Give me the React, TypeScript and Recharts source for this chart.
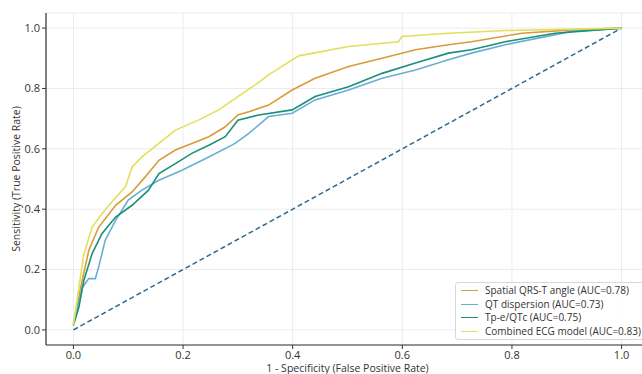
import { CartesianGrid, Line, LineChart, XAxis, YAxis } from "recharts";

type Pt = { x: number; y: number };

const ticks = [0, 0.2, 0.4, 0.6, 0.8, 1.0];

const spatialFpr = [0, 0.016, 0.028, 0.046, 0.077, 0.107, 0.131, 0.156, 0.186, 0.216, 0.247, 0.277, 0.3, 0.32, 0.356, 0.399, 0.441, 0.502, 0.563, 0.624, 0.684, 0.726, 0.818, 0.909, 1];
const spatialTpr = [0.02, 0.164, 0.263, 0.34, 0.413, 0.457, 0.507, 0.562, 0.596, 0.618, 0.64, 0.673, 0.712, 0.723, 0.745, 0.795, 0.834, 0.873, 0.9, 0.928, 0.945, 0.955, 0.983, 0.994, 1];

const qtdFpr = [0, 0.016, 0.028, 0.04, 0.046, 0.058, 0.077, 0.1, 0.125, 0.156, 0.198, 0.247, 0.295, 0.32, 0.356, 0.399, 0.441, 0.502, 0.563, 0.624, 0.684, 0.726, 0.788, 0.909, 1];
const qtdTpr = [0.015, 0.14, 0.17, 0.17, 0.208, 0.297, 0.363, 0.43, 0.463, 0.496, 0.529, 0.573, 0.618, 0.651, 0.707, 0.718, 0.762, 0.795, 0.834, 0.861, 0.895, 0.917, 0.945, 0.989, 1];

const tpeFpr = [0, 0.01, 0.019, 0.034, 0.052, 0.077, 0.107, 0.137, 0.156, 0.186, 0.216, 0.247, 0.277, 0.3, 0.338, 0.399, 0.441, 0.502, 0.563, 0.624, 0.684, 0.726, 0.788, 0.879, 1];
const tpeTpr = [0.015, 0.075, 0.164, 0.252, 0.319, 0.374, 0.413, 0.463, 0.518, 0.551, 0.585, 0.612, 0.64, 0.695, 0.712, 0.729, 0.773, 0.806, 0.85, 0.884, 0.917, 0.928, 0.955, 0.983, 1];

const combFpr = [0, 0.01, 0.019, 0.034, 0.052, 0.07, 0.095, 0.107, 0.125, 0.156, 0.186, 0.228, 0.265, 0.3, 0.338, 0.356, 0.411, 0.502, 0.593, 0.599, 0.684, 0.788, 1];
const combTpr = [0.015, 0.14, 0.25, 0.34, 0.385, 0.424, 0.474, 0.54, 0.573, 0.618, 0.662, 0.695, 0.729, 0.773, 0.82, 0.845, 0.908, 0.939, 0.955, 0.972, 0.983, 0.992, 1];

const chanceFpr = [0, 1];
const chanceTpr = [0, 1];

const zip = (xs: number[], ys: number[]): Pt[] => xs.map((x, i) => ({ x, y: ys[i] }));

const series = [
  { name: "Spatial QRS-T angle (AUC=0.78)", color: "#d99b38", data: zip(spatialFpr, spatialTpr) },
  { name: "QT dispersion (AUC=0.73)", color: "#6aaed6", data: zip(qtdFpr, qtdTpr) },
  { name: "Tp-e/QTc (AUC=0.75)", color: "#1b8f78", data: zip(tpeFpr, tpeTpr) },
  { name: "Combined ECG model (AUC=0.83)", color: "#e2e05a", data: zip(combFpr, combTpr) },
];

const font = "'Open Sans', 'DejaVu Sans', sans-serif";
const tickStyle = { fontSize: 11, fill: "#333", fontFamily: font };

function LegendBox() {
  return (
    <div
      style={{
        position: "absolute",
        left: 455,
        top: 282,
        border: "1px solid #d8d8d8",
        borderRadius: 3,
        background: "rgba(255,255,255,0.85)",
        padding: "1px 3px 1px 5px",
        fontFamily: font,
        fontSize: 10,
        color: "#333",
        lineHeight: "13.5px",
        whiteSpace: "nowrap",
      }}
    >
      {series.map((s) => (
        <div key={s.name} style={{ display: "flex", alignItems: "center" }}>
          <span style={{ display: "inline-block", width: 17, height: 0, borderTop: `1.5px solid ${s.color}`, marginRight: 7 }} />
          <span>{s.name}</span>
        </div>
      ))}
    </div>
  );
}

export default function App() {
  return (
    <div style={{ position: "absolute", left: 0, top: 0, width: 642, height: 374, overflow: "hidden", background: "#fff" }}>
      <LineChart width={660} height={374} margin={{ top: 13, right: 11, bottom: 0, left: 0 }}>
        <CartesianGrid stroke="#e9ecef" vertical horizontal />
        <XAxis
          dataKey="x"
          type="number"
          domain={[-0.05, 1.05]}
          ticks={ticks}
          tickFormatter={(v: number) => v.toFixed(1)}
          tick={tickStyle}
          tickSize={4}
          tickLine={{ stroke: "#333" }}
          axisLine={{ stroke: "#333", strokeWidth: 1.2 }}
          height={29}
          allowDataOverflow
          label={{ value: "1 - Specificity (False Positive Rate)", position: "insideBottom", offset: 2, style: { fontSize: 10.5, fill: "#333", fontFamily: font } }}
        />
        <YAxis
          dataKey="y"
          type="number"
          domain={[-0.05, 1.05]}
          ticks={ticks}
          tickFormatter={(v: number) => v.toFixed(1)}
          tick={tickStyle}
          tickSize={4}
          tickLine={{ stroke: "#333" }}
          axisLine={{ stroke: "#333", strokeWidth: 1.2 }}
          width={46}
          allowDataOverflow
          label={{ value: "Sensitivity (True Positive Rate)", angle: -90, position: "insideLeft", offset: 16, style: { fontSize: 10.5, fill: "#333", fontFamily: font, textAnchor: "middle" } }}
        />
        <Line
          data={zip(chanceFpr, chanceTpr)}
          dataKey="y"
          stroke="#2d6a8e"
          strokeWidth={1.5}
          strokeDasharray="5 3"
          dot={false}
          legendType="none"
          isAnimationActive={false}
        />
        {series.map((s) => (
          <Line
            key={s.name}
            data={s.data}
            dataKey="y"
            name={s.name}
            stroke={s.color}
            strokeWidth={1.6}
            dot={false}
            isAnimationActive={false}
          />
        ))}
      </LineChart>
      <LegendBox />
    </div>
  );
}
